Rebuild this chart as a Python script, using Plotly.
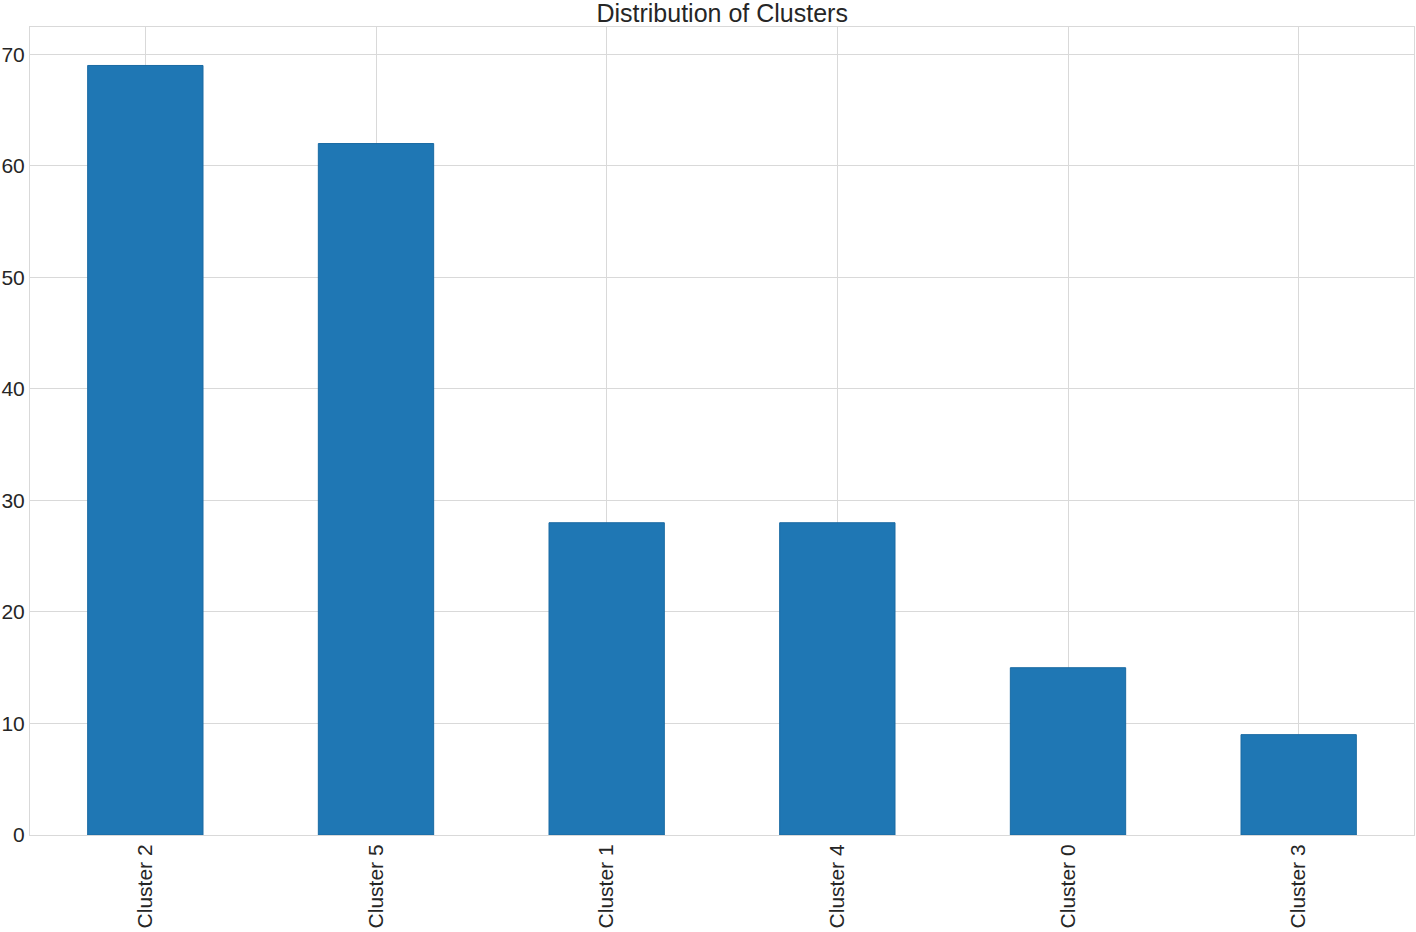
import plotly.graph_objects as go

clusters = ["Cluster 2", "Cluster 5", "Cluster 1", "Cluster 4", "Cluster 0", "Cluster 3"]
counts = [69, 62, 28, 28, 15, 9]
y_ticks = [0, 10, 20, 30, 40, 50, 60, 70]

BAR_COLOR = "#1f77b4"
GRID = "#d9d9d9"
FONT = "Liberation Sans, Arial, sans-serif"

fig = go.Figure(
    go.Bar(
        x=clusters,
        y=counts,
        width=0.5,
        marker={"color": BAR_COLOR, "line": {"color": "#1a6aa3", "width": 1}},
    )
)

fig.update_layout(
    width=1416,
    height=932,
    title={
        "text": "Distribution of Clusters",
        "x": 0.51,
        "xanchor": "center",
        "y": 0.986,
        "yanchor": "middle",
        "font": {"size": 25, "color": "#262626", "family": FONT},
    },
    font={"family": FONT, "size": 21, "color": "#262626"},
    paper_bgcolor="white",
    plot_bgcolor="white",
    margin={"l": 30, "r": 2, "t": 27, "b": 97},
    showlegend=False,
    xaxis={
        "range": [-0.5, 5.5],
        "tickangle": -90,
        "automargin": False,
        "showgrid": True,
        "gridcolor": GRID,
        "showline": True,
        "linecolor": GRID,
        "mirror": True,
        "ticks": "",
        "ticklabelstandoff": 0,
    },
    yaxis={
        "range": [0, 72.45],
        "tickvals": y_ticks,
        "automargin": False,
        "showgrid": True,
        "gridcolor": GRID,
        "showline": True,
        "linecolor": GRID,
        "mirror": True,
        "zeroline": False,
        "ticks": "",
        "ticklabelstandoff": 0,
    },
)

# the page body has a default 8px margin that shifts the figure
fig.write_html(
    "out.html",
    config={"displayModeBar": False},
    post_script="document.body.style.margin = '0';",
)
